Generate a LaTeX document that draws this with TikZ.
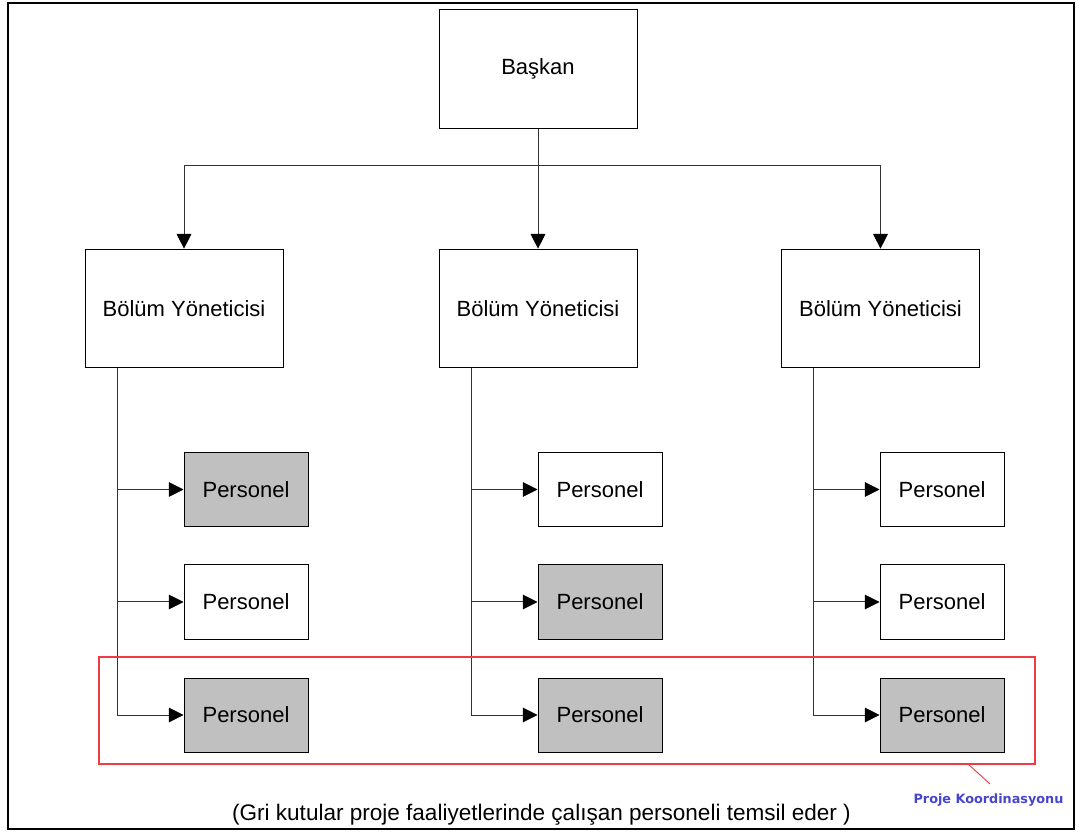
\documentclass[tikz,border=0pt]{standalone}
\usepackage{fontspec}
\setmainfont{Liberation Sans}
\newfontfamily\labelfont{DejaVu Sans}
\usetikzlibrary{arrows.meta}
\definecolor{boxgray}{RGB}{192,192,192}
\definecolor{markred}{RGB}{238,60,70}
\definecolor{labelblue}{RGB}{70,70,205}
\begin{document}
\begin{tikzpicture}[x=0.75pt,y=-0.75pt,
  every node/.style={font=\fontsize{16.5pt}{19pt}\selectfont},
  bigbox/.style={draw=black,line width=0.75pt,fill=white,minimum width=148.5pt,minimum height=89pt,inner sep=0pt},
  staffbox/.style={draw=black,line width=0.75pt,fill=white,minimum width=93pt,minimum height=55.5pt,inner sep=0pt},
  project/.style={staffbox,fill=boxgray},
  link/.style={line width=0.75pt,draw=black!80},
  arr/.style={link,-{Triangle[length=11pt,width=11pt,color=black]}},
]
\useasboundingbox (0,0) rectangle (1082,837);
\draw[line width=2.2pt] (8,3) rectangle (1074,829);

% chairman and department managers
\node[bigbox] (bask) at (538,69) {Başkan};
\node[bigbox] (bol1) at (184,308.5) {Bölüm Yöneticisi};
\node[bigbox] (bol2) at (538,308.5) {Bölüm Yöneticisi};
\node[bigbox] (bol3) at (880.5,308.5) {Bölüm Yöneticisi};

% staff, three per department
\node[project]  (p11) at (246,489.5) {Personel};
\node[staffbox] (p12) at (246,602) {Personel};
\node[project]  (p13) at (246,715) {Personel};
\node[staffbox] (p21) at (600,489.5) {Personel};
\node[project]  (p22) at (600,602) {Personel};
\node[project]  (p23) at (600,715) {Personel};
\node[staffbox] (p31) at (942,489.5) {Personel};
\node[staffbox] (p32) at (942,602) {Personel};
\node[project]  (p33) at (942,715) {Personel};

% chairman to managers
\coordinate (bus) at (538,166);
\draw[arr] (bask.south) -- (bol2.north);
\draw[arr] (bus) -| (bol1.north);
\draw[arr] (bus) -| (bol3.north);

% managers to staff
\coordinate (t1) at (117,368);
\coordinate (t2) at (471,368);
\coordinate (t3) at (813,368);
\foreach \c in {1,2,3}{
  \draw[arr] (t\c) |- (p\c3.west);
  \draw[arr] (t\c |- p\c1.west) -- (p\c1.west);
  \draw[arr] (t\c |- p\c2.west) -- (p\c2.west);
}

% project coordination frame
\draw[markred,line width=0.9pt] (99,657) rectangle (1035,764);
\coordinate (lead) at (968,764);
\node[font=\labelfont\bfseries\fontsize{9.6pt}{11pt}\selectfont,text=labelblue,inner sep=1pt] (lab) at (988.5,800) {Proje Koordinasyonu};
\draw[markred,line width=0.7pt] (lead) -- (990,784);

\node (note) at (541.5,815) {\fontsize{16.9pt}{19pt}\selectfont(Gri kutular proje faaliyetlerinde çalışan personeli temsil eder )};
\end{tikzpicture}
\end{document}
